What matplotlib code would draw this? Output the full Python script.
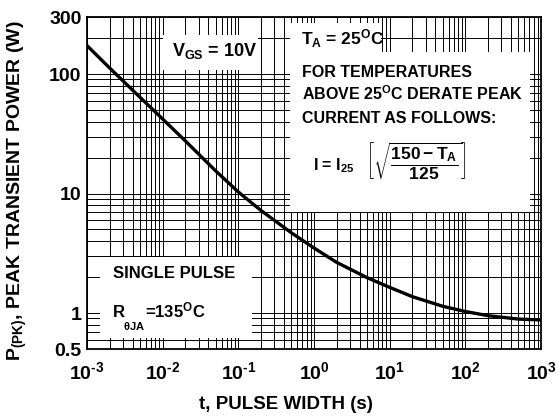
import matplotlib
matplotlib.use('Agg')
import matplotlib.pyplot as plt
from matplotlib.patches import Rectangle
from matplotlib.ticker import FixedLocator, FixedFormatter, LogLocator, NullFormatter
import numpy as np

plt.rcParams['font.family'] = 'Liberation Sans'
plt.rcParams['font.weight'] = 'bold'
plt.rcParams['mathtext.fontset'] = 'custom'
plt.rcParams['mathtext.rm'] = 'Liberation Sans:bold'
plt.rcParams['mathtext.it'] = 'Liberation Sans:bold'
plt.rcParams['mathtext.bf'] = 'Liberation Sans:bold'
plt.rcParams['mathtext.sf'] = 'Liberation Sans:bold'

# Data
pulse_width = [1e-3, 2e-3, 5e-3, 1e-2, 2e-2, 5e-2, 0.1, 0.2, 0.5, 1, 2, 5,
               10, 20, 50, 100, 200, 500, 1000]
peak_power = [173, 112, 64, 42, 27.5, 15.5, 10.3, 7.2, 4.7, 3.5, 2.65, 1.98,
              1.64, 1.37, 1.14, 1.03, 0.95, 0.89, 0.875]

y_ticks = [0.5, 1, 10, 100, 300]
y_tick_labels = ['0.5', '1', '10', '100', '300']
x_ticks = [1e-3, 1e-2, 1e-1, 1e0, 1e1, 1e2, 1e3]
x_tick_labels = [r'$10^{\text{-}3}$', r'$10^{\text{-}2}$', r'$10^{\text{-}1}$', r'$10^{0}$',
                 r'$10^{1}$', r'$10^{2}$', r'$10^{3}$']

W, H = 558, 416
L, R, T, B = 87, 541, 17, 349

fig = plt.figure(figsize=(W / 100, H / 100), dpi=100)
ax = fig.add_axes([L / W, 1 - B / H, (R - L) / W, (B - T) / H])


def fx(px):
    return (px - L) / (R - L)


def fy(py):
    return (B - py) / (B - T)


ax.plot(pulse_width, peak_power, color='black', lw=2.4, zorder=3,
        solid_joinstyle='round')

ax.set_xscale('log')
ax.set_yscale('log')
ax.set_xlim(1e-3, 1e3)
ax.set_ylim(0.5, 300)

ax.xaxis.set_major_locator(FixedLocator(x_ticks))
ax.xaxis.set_major_formatter(FixedFormatter(x_tick_labels))
ax.xaxis.set_minor_locator(LogLocator(base=10, subs=np.arange(2, 10), numticks=100))
ax.xaxis.set_minor_formatter(NullFormatter())
ax.yaxis.set_major_locator(FixedLocator(y_ticks))
ax.yaxis.set_major_formatter(FixedFormatter(y_tick_labels))
ax.yaxis.set_minor_locator(LogLocator(base=10, subs=np.arange(2, 10), numticks=100))
ax.yaxis.set_minor_formatter(NullFormatter())

ax.tick_params(which='both', length=0)
ax.tick_params(axis='x', labelsize=14, pad=9)
ax.tick_params(axis='y', labelsize=14, pad=4)

ax.set_axisbelow(True)
ax.grid(True, which='both', color='black', lw=0.7)
for s in ax.spines.values():
    s.set_linewidth(1.3)

ax.set_xlabel('t, PULSE WIDTH (s)', fontsize=13.5, fontweight='bold')
ax.xaxis.set_label_coords(fx(286), fy(396))
ax.set_ylabel(r'P$_{\rm (PK)}$, PEAK TRANSIENT POWER (W)', fontsize=14, fontweight='bold')
ax.yaxis.set_label_coords(fx(29), fy(191))

# white label boxes
boxes = [(163, 35, 258, 70), (290, 23, 381, 53), (290, 52, 530, 212), (100, 257, 252, 338)]
for x0, y0, x1, y1 in boxes:
    ax.add_patch(Rectangle((fx(x0), fy(y1)), fx(x1) - fx(x0), fy(y0) - fy(y1),
                           transform=ax.transAxes, facecolor='white',
                           edgecolor='none', zorder=2))

tk = dict(transform=ax.transAxes, va='baseline', ha='left', zorder=4, fontweight='bold')
ax.text(fx(172), fy(56), r'V$_{\rm GS}$ = 10V', fontsize=13, **tk)
ax.text(fx(301), fy(45), r'T$_{\rm A}$ = 25$^{\rm O}$C', fontsize=12.5, **tk)
ax.text(fx(302), fy(77), 'FOR TEMPERATURES', fontsize=11.5, **tk)
ax.text(fx(302), fy(100), r'ABOVE 25$^{\rm O}$C DERATE PEAK', fontsize=11.5, **tk)
ax.text(fx(302), fy(123), 'CURRENT AS FOLLOWS:', fontsize=11.5, **tk)
ax.text(fx(313), fy(170), r'I = I$_{\rm 25}$', fontsize=11.5, **tk)
ax.text(fx(416), fy(161), r'$\left[\sqrt{\dfrac{150 - \mathrm{T}_{\mathrm{A}}}{125}}\right]$',
        fontsize=12.5, transform=ax.transAxes, ha='center', va='center', zorder=4)
ax.text(fx(113), fy(278), 'SINGLE PULSE', fontsize=12, **tk)
ax.text(fx(113), fy(317), 'R', fontsize=12, **tk)
ax.text(fx(123), fy(330), r'$\theta$JA', fontsize=8, **tk)
ax.text(fx(145), fy(317), r'=135$^{\rm O}$C', fontsize=12, **tk)

fig.savefig('out.png', dpi=100)
